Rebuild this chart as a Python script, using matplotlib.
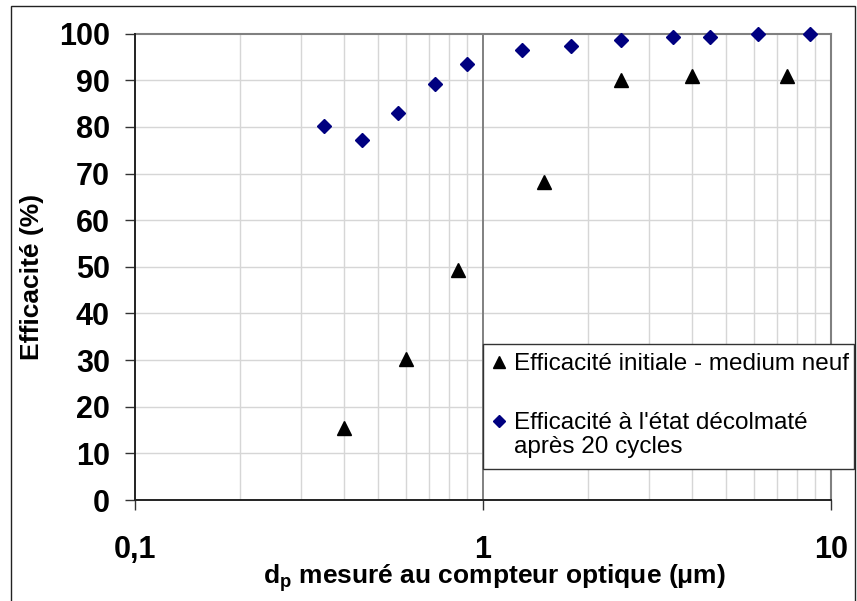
import matplotlib
matplotlib.use("Agg")
import matplotlib.pyplot as plt
from matplotlib.lines import Line2D
from matplotlib.patches import Rectangle
from matplotlib.ticker import FixedLocator, FixedFormatter

plt.rcParams['font.family'] = ['Liberation Sans', 'DejaVu Sans']
plt.rcParams['mathtext.fontset'] = 'custom'
plt.rcParams['mathtext.bf'] = 'Liberation Sans:bold'
plt.rcParams['mathtext.rm'] = 'Liberation Sans:bold'

# particle diameter (um) and efficiency (%)
d_initial = [0.40, 0.60, 0.85, 1.50, 2.50, 4.00, 7.50]
eff_initial = [15.4, 30.3, 49.3, 68.3, 90.1, 90.9, 90.9]

d_clean = [0.35, 0.45, 0.57, 0.73, 0.90, 1.30, 1.79, 2.49, 3.51, 4.51, 6.20, 8.74]
eff_clean = [80.2, 77.2, 83.1, 89.2, 93.6, 96.5, 97.4, 98.6, 99.2, 99.2, 100.0, 100.0]

x_ticks = [0.1, 1, 10]
x_ticklabels = ['0,1', '1', '10']
y_ticks = list(range(0, 101, 10))

label_initial = 'Efficacité initiale - medium neuf'
label_clean = ["Efficacité à l'état décolmaté", 'après 20 cycles']

W, H = 857, 601
fig = plt.figure(figsize=(W / 100, H / 100), dpi=100)


def fx(px):
    return px / W


def fy(py):
    return 1 - py / H


ax = fig.add_axes([fx(135), fy(500), fx(830.7) - fx(135), fy(33.7) - fy(500)])
ax.set_xscale('log')
ax.set_xlim(0.1, 10)
ax.set_ylim(0, 100)

# grid
minor = [m * 10.0 ** e for e in (-1, 0) for m in range(2, 10)]
for v in minor:
    ax.axvline(v, color='#d6d6d6', lw=1.0, zorder=0)
for v in y_ticks[1:-1]:
    ax.axhline(v, color='#d6d6d6', lw=1.0, zorder=0)
ax.axvline(1, color='#808080', lw=1.4, zorder=1)

for s in ('top', 'right'):
    ax.spines[s].set_color('#808080')
    ax.spines[s].set_linewidth(1.5)
for s in ('left', 'bottom'):
    ax.spines[s].set_color('#222222')
    ax.spines[s].set_linewidth(1.4)
    ax.spines[s].set_zorder(3)

ax.xaxis.set_major_locator(FixedLocator(x_ticks))
ax.xaxis.set_major_formatter(FixedFormatter(x_ticklabels))
ax.xaxis.set_minor_locator(FixedLocator([]))
ax.set_yticks(y_ticks)
ax.tick_params(axis='x', which='major', length=7, width=1, color='#333333',
               pad=18, labelsize=22)
ax.tick_params(axis='y', which='major', length=7, width=1, color='#333333',
               pad=11, labelsize=22)
for t in ax.get_xticklabels() + ax.get_yticklabels():
    t.set_fontweight('bold')

ax.plot(d_clean, eff_clean, linestyle='none', marker='D', ms=7.4,
        color='#000080', clip_on=False, zorder=5)
ax.plot(d_initial, eff_initial, linestyle='none', marker='^', ms=10,
        color='black', clip_on=False, zorder=5)

ax.set_ylabel('Efficacité (%)', fontsize=19, fontweight='bold', va='center')
ax.yaxis.set_label_coords((32 - 135) / 695.7, (500 - 277) / 466.3)
ax.set_xlabel(r'd$_{\mathbf{p}}$ mesuré au compteur optique (μm)',
              fontsize=19, fontweight='bold', va='center')
ax.xaxis.set_label_coords((494.5 - 135) / 695.7, (500 - 578) / 466.3)

# legend box
box = Rectangle((fx(482.7), fy(469.3)), fx(854) - fx(482.7), fy(344) - fy(469.3),
                transform=fig.transFigure, facecolor='white', edgecolor='#333333',
                lw=1.0, zorder=10)
fig.add_artist(box)
fig.add_artist(Line2D([fx(499)], [fy(362)], marker='^', ms=8.5, color='black',
                      linestyle='none', transform=fig.transFigure, zorder=11))
fig.add_artist(Line2D([fx(499)], [fy(421)], marker='D', ms=6, color='#000080',
                      linestyle='none', transform=fig.transFigure, zorder=11))
fig.text(fx(514), fy(370), label_initial, fontsize=17.5, va='baseline',
         ha='left', zorder=12)
fig.text(fx(514), fy(429.3), label_clean[0], fontsize=17.5, va='baseline',
         ha='left', zorder=12)
fig.text(fx(514), fy(453.5), label_clean[1], fontsize=17.5, va='baseline',
         ha='left', zorder=12)

# chart frame
fig.add_artist(Rectangle((fx(11), -0.02), fx(855) - fx(11), fy(6) + 0.02,
                         transform=fig.transFigure, fill=False,
                         edgecolor='#222222', lw=1.0))

fig.savefig('out.png', dpi=100)
